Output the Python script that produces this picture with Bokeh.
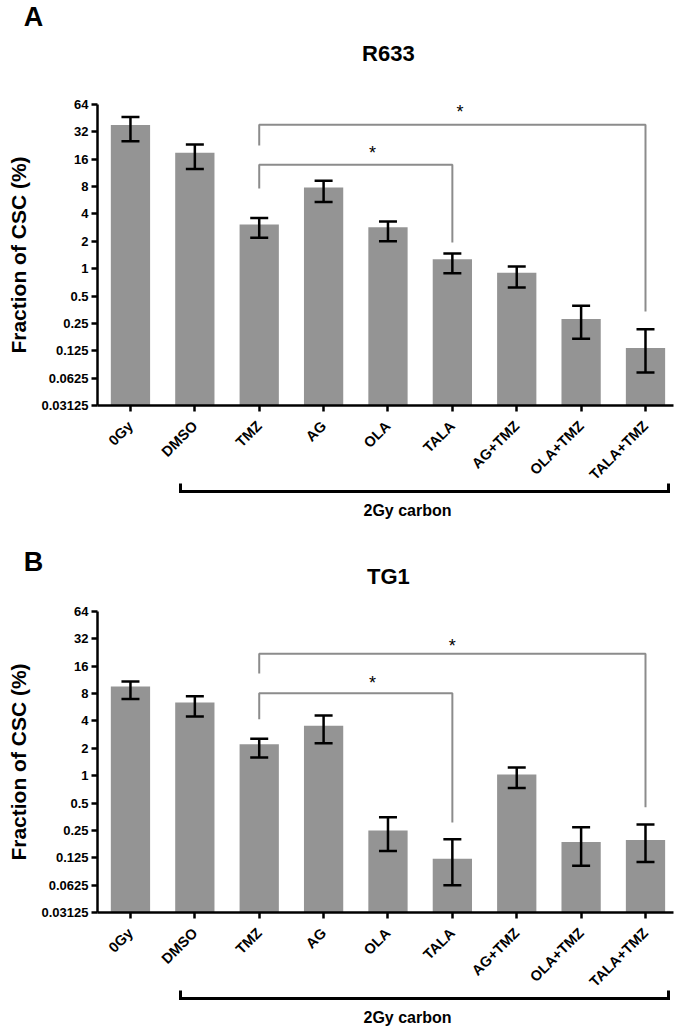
import math
from bokeh.plotting import figure
from bokeh.models import (Range1d, FixedTicker, CustomJSTickFormatter, Whisker, TeeHead,
                          ColumnDataSource, Label, LinearAxis, Title)
from bokeh.layouts import column
from bokeh.embed import file_html
from bokeh.resources import INLINE
from bokeh.core.properties import value

# ---------------- data ----------------
categories = ["0Gy", "DMSO", "TMZ", "AG", "OLA", "TALA", "AG+TMZ", "OLA+TMZ", "TALA+TMZ"]

r633_mean = [38.0, 18.9, 3.07, 7.8, 2.85, 1.27, 0.90, 0.28, 0.134]
r633_upper = [46.5, 23.3, 3.6, 9.3, 3.3, 1.47, 1.06, 0.39, 0.215]
r633_lower = [25.3, 12.5, 2.19, 5.4, 2.0, 0.89, 0.62, 0.17, 0.072]

tg1_mean = [9.6, 6.4, 2.22, 3.55, 0.25, 0.122, 1.03, 0.186, 0.196]
tg1_upper = [10.9, 7.5, 2.55, 4.6, 0.35, 0.20, 1.23, 0.27, 0.29]
tg1_lower = [6.96, 4.47, 1.58, 2.27, 0.148, 0.0625, 0.73, 0.102, 0.112]

y_ticks = [64, 32, 16, 8, 4, 2, 1, 0.5, 0.25, 0.125, 0.0625, 0.03125]
y_tick_labels = ["64", "32", "16", "8", "4", "2", "1", "0.5", "0.25", "0.125", "0.0625", "0.03125"]

# significance brackets: (from index, to index, bar height, left leg end, right leg end)
r633_brackets = [(2, 8, 38.3, 22.6, 0.337), (2, 5, 13.9, 7.6, 1.94)]
tg1_brackets = [(2, 8, 21.9, 13.3, 0.45), (2, 5, 8.06, 4.17, 0.305)]
# star positions
r633_stars_x = [5.12, 3.76]
r633_stars_y = [52.8, 18.5]
tg1_stars_x = [5.0, 3.76]
tg1_stars_y = [26.6, 10.5]

group_label = "2Gy carbon"
group_first, group_last = 1, 8
y_label = "Fraction of CSC (%)"

# ---------------- style / layout ----------------
FONT = "Liberation Sans"
BAR_COLOR = "#949494"
W = 685
BORDER_L, BORDER_R = 97, 12
FRAME_W, FRAME_H = 576, 301
X0, X1 = -0.512, 8.435
UNITS_PER_PX = (X1 - X0) / FRAME_W
HX0, HX1 = X0 - BORDER_L * UNITS_PER_PX, X1 + BORDER_R * UNITS_PER_PX
TOP_BORDER, BOTTOM_BORDER = 10, 115
LETTER_X, TITLE_X = -1.506, 4.006


def make_header(letter, title, height, letter_y, title_y):
    h = figure(width=W, height=height, x_range=Range1d(HX0, HX1), y_range=Range1d(height, 0),
               min_border_left=0, min_border_right=0, min_border_top=0, min_border_bottom=0,
               x_axis_location=None, y_axis_location=None, title=None,
               output_backend="svg", toolbar_location=None)
    h.frame_align = False
    h.outline_line_color = None
    h.grid.visible = False
    h.background_fill_color = "white"
    h.border_fill_color = "white"
    h.add_layout(Label(x=LETTER_X, y=letter_y, text=letter, text_font=FONT,
                       text_font_size="27px", text_font_style="bold", text_color="black",
                       text_align="center", text_baseline="middle"))
    h.add_layout(Label(x=TITLE_X, y=title_y, text=title, text_font=FONT,
                       text_font_size="22px", text_font_style="bold", text_color="black",
                       text_align="center", text_baseline="middle"))
    return h


def make_panel(mean, upper, lower, brackets, sx, sy):
    ymin, ymax = min(y_ticks), max(y_ticks)
    p = figure(width=W, height=TOP_BORDER + FRAME_H + BOTTOM_BORDER,
               x_range=Range1d(X0, X1), y_range=Range1d(ymin, ymax),
               y_axis_type="log", title=None, output_backend="svg", toolbar_location=None,
               min_border_left=BORDER_L, min_border_right=BORDER_R,
               min_border_top=TOP_BORDER, min_border_bottom=BOTTOM_BORDER)
    p.outline_line_color = None
    p.grid.visible = False
    p.background_fill_color = "white"
    p.border_fill_color = "white"

    src = ColumnDataSource(dict(x=list(range(len(categories))), top=mean,
                                upper=upper, lower=lower))
    p.vbar(x="x", top="top", bottom=ymin, width=0.61, source=src,
           fill_color=BAR_COLOR, line_color=None)

    w = Whisker(base="x", upper="upper", lower="lower", source=src, level="overlay",
                line_color="black", line_width=2.5,
                upper_head=TeeHead(size=18, line_width=2.5, line_color="black"),
                lower_head=TeeHead(size=18, line_width=2.5, line_color="black"))
    p.add_layout(w)

    xs, ys = [], []
    for (i, j, h, lb, rb) in brackets:
        xs.append([i, i, j, j])
        ys.append([lb, h, h, rb])
    p.multi_line(xs, ys, line_color="#8c8c8c", line_width=2)
    p.text(x=sx, y=sy, text=["*"] * len(sx), text_align="center", text_baseline="middle",
           text_font=value(FONT), text_font_size="18px", text_color="black")

    for ax in (p.xaxis[0], p.yaxis[0]):
        ax.axis_line_width = 2.5
        ax.axis_line_color = "black"
        ax.major_tick_line_width = 2.5
        ax.major_tick_line_color = "black"
        ax.major_tick_out = 6
        ax.major_tick_in = 0
        ax.minor_tick_line_color = None
        ax.major_label_text_font = FONT
        ax.major_label_text_font_style = "bold"
        ax.major_label_text_color = "black"

    xa = p.xaxis[0]
    xa.ticker = FixedTicker(ticks=list(range(len(categories))))
    xa.major_label_overrides = {i: c for i, c in enumerate(categories)}
    xa.major_label_orientation = math.pi / 4
    xa.major_label_standoff = 12
    xa.major_label_text_font_size = "14.5px"

    ya = p.yaxis[0]
    ya.ticker = FixedTicker(ticks=y_ticks, minor_ticks=[])
    ya.formatter = CustomJSTickFormatter(
        args=dict(tv=y_ticks, tl=y_tick_labels),
        code="""
        for (let i = 0; i < tv.length; i++) {
            if (Math.abs(tv[i] - tick) < 1e-6 * tv[i]) return tl[i];
        }
        return '';
        """)
    ya.major_label_standoff = 3
    ya.major_label_text_font_size = "13px"
    ya.axis_label = y_label
    ya.axis_label_text_font = FONT
    ya.axis_label_text_font_style = "bold"
    ya.axis_label_text_font_size = "21px"
    ya.axis_label_text_color = "black"
    ya.axis_label_standoff = 9

    # group bracket (an axis limited to the treated groups) and its label
    xl, xr = group_first - 0.224, group_last + 0.36
    gax = LinearAxis(bounds=(xl, xr), ticker=FixedTicker(ticks=[xl, xr], minor_ticks=[]),
                     formatter=CustomJSTickFormatter(code="return ''"),
                     major_tick_in=8, major_tick_out=0, major_label_standoff=0,
                     major_label_text_font_size="1px",
                     axis_label=" ", axis_label_standoff=1, axis_label_text_font_size="5px",
                     axis_line_width=3, axis_line_color="black", axis_line_cap="square",
                     major_tick_line_width=3, major_tick_line_color="black",
                     minor_tick_line_color=None)
    p.add_layout(gax, "below")
    p.add_layout(Title(text=group_label, align="left", offset=266, vertical_align="top",
                       standoff=0, text_font=FONT, text_font_size="16px",
                       text_font_style="bold", text_color="black"), "below")
    return p


hA = make_header("A", "R633", 94, 16, 52.5)
pA = make_panel(r633_mean, r633_upper, r633_lower, r633_brackets, r633_stars_x, r633_stars_y)
hB = make_header("B", "TG1", 81, 41, 56)
pB = make_panel(tg1_mean, tg1_upper, tg1_lower, tg1_brackets, tg1_stars_x, tg1_stars_y)

layout = column(hA, pA, hB, pB, spacing=0)
open("out.html", "w").write(file_html(layout, INLINE))
